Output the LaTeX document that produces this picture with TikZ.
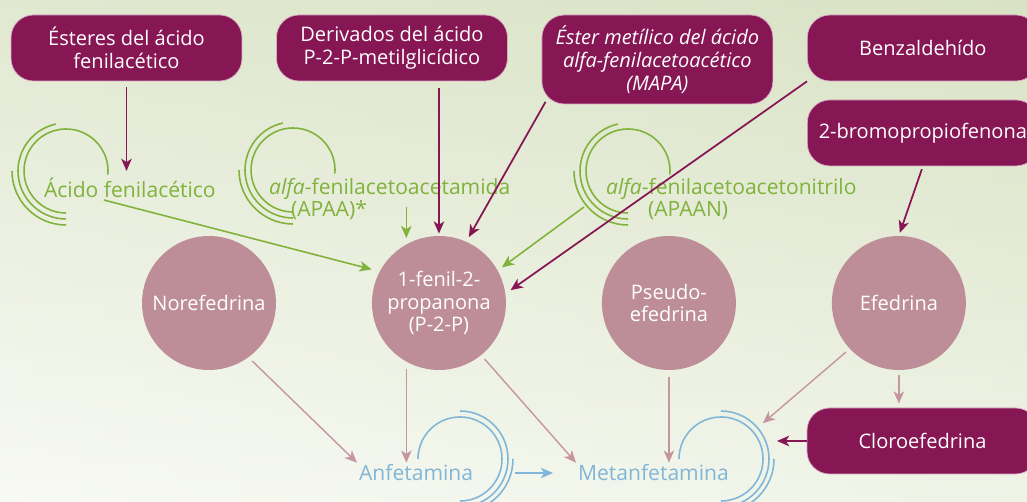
\documentclass[tikz,border=0pt]{standalone}
\usepackage{fontspec}
\setmainfont{Open Sans}
\usetikzlibrary{arrows.meta,positioning,shapes}

\definecolor{plum}{RGB}{134,22,84}
\definecolor{plumline}{RGB}{214,170,195}
\definecolor{rose}{RGB}{190,142,152}
\definecolor{rosearrow}{RGB}{198,150,160}
\definecolor{leaf}{RGB}{128,178,60}
\definecolor{sky}{RGB}{128,182,216}
\definecolor{bgpale}{RGB}{248,250,244}
\definecolor{bgright}{RGB}{228,235,212}
\definecolor{bgtop}{RGB}{210,221,186}

\begin{document}
\begin{tikzpicture}[x=0.02cm, y=0.02cm, node distance=4.6cm,
    txt/.style={font=\fontsize{11.4}{13}\selectfont},
    lbl/.style={font=\fontsize{12}{12.6}\selectfont},
    source/.style={rectangle, rounded corners=0.45cm, draw=plumline, line width=0.4pt, fill=plum, text=white, minimum width=4.62cm, minimum height=1.32cm, align=center, txt},
    drug/.style={circle, fill=rose, text=white, minimum size=2.68cm, inner sep=0pt, align=center, txt},
    pre/.style={text=leaf, align=left, inner sep=1pt, lbl},
    prod/.style={text=sky, inner sep=1pt, lbl},
    tip/.style={-{Stealth[length=7pt, width=6pt, inset=2pt]}},
    plumarrow/.style={tip, color=plum, line width=1pt},
    leafarrow/.style={tip, color=leaf, line width=0.9pt},
    rosearrow/.style={tip, color=rosearrow, line width=0.8pt},
    skyarrow/.style={tip, color=sky, line width=0.8pt},
    ring/.style={line width=0.9pt}]

    \useasboundingbox (0,0) rectangle (1027,502);
    \clip (0,0) rectangle (1027,502);
    \shade [left color=bgpale, right color=bgright] (0,0) rectangle (1027,502);
    \shade [top color=bgtop, bottom color=bgpale, opacity=0.6] (0,0) rectangle (1027,502);

    % precursor boxes
    \node (b1) [source] at (126.5,454) {Ésteres del ácido\\fenilacético};
    \node (b2) [source, right of=b1, node distance=5.31cm] {Derivados del ácido\\P-2-P-metilglicídico};
    \node (b3) [source, right of=b2, node distance=5.31cm, yshift=-0.23cm, minimum height=1.78cm, font=\fontsize{11.4}{13}\selectfont\itshape] {Éster metílico del ácido\\alfa-fenilacetoacético\\(MAPA)};
    \node (b4) [source, right of=b3, node distance=5.31cm, yshift=0.23cm] {Benzaldehído};
    \node (b5) [source, below of=b4, node distance=1.7cm] {2-bromopropiofenona};
    \node (b6) [source] at (922.5,61) {Cloroefedrina};

    % drugs in the middle row
    \node (nore) [drug] at (209,199) {Norefedrina};
    \node (p2p) [drug, right of=nore] {1-fenil-2-\\propanona\\(P-2-P)};
    \node (pseudo) [drug, right of=p2p] {Pseudo-\\efedrina};
    \node (efe) [drug, right of=pseudo] {Efedrina};

    % green pre-precursors and blue end products
    \node (acido) [pre, anchor=west] at (42,314) {Ácido fenilacético};
    \node (apaa) [pre, anchor=west] at (267,303) {\textit{alfa}-fenilacetoacetamida\\\hspace*{0.44cm}(APAA)*};
    \node (apaan) [pre, anchor=west] at (604,303) {\textit{alfa}-fenilacetoacetonitrilo\\\hspace*{0.84cm}(APAAN)};
    \node (anf) [prod, anchor=west] at (357,29) {Anfetamina};
    \node (met) [prod, anchor=west] at (576,29) {Metanfetamina};

    \coordinate (ringA) at (66,331);
    \coordinate (ringB) at (293,332);
    \coordinate (ringC) at (628,331);
    \coordinate (ringD) at (460,43);
    \coordinate (ringE) at (721,43);

    \foreach \c in {ringA,ringB,ringC}
        \foreach \r/\a in {42/-5, 48/102, 54/180}
            \draw [ring, leaf] (\c) ++(\a:\r) arc [start angle=\a, end angle=270, radius=\r];
    \foreach \c in {ringD,ringE}
        \foreach \r/\a in {42/180, 48/90, 53/0}
            \draw [ring, sky] (\c) ++(\a:\r) arc [start angle=\a, end angle=-90, radius=\r];

    % connectors
    \path [plumarrow, shorten <=0.12cm, shorten >=0.1cm] (b1.south) edge (acido.north -| b1.south);
    \path [plumarrow, shorten <=0.14cm, shorten >=0.04cm] (b2.south -| p2p) edge (p2p.north);
    \path [plumarrow, shorten >=0.1cm] ([xshift=0.08cm, yshift=0.05cm]b3.south west) edge (p2p.66);
    \path [plumarrow, shorten >=0.12cm] (b4.south west) edge (p2p.8);
    \path [plumarrow, shorten <=0.06cm, shorten >=0.06cm] (b5.south) edge (efe.north);
    \path [plumarrow, shorten >=1.12cm] (b6.west) edge (b6.west -| ringE);

    \path [leafarrow, shorten <=-0.3cm, shorten >=0.12cm] (apaa.south -| p2p.119) edge (p2p.119);
    \path [leafarrow, shorten >=0.16cm] ([xshift=-0.52cm]acido.south) edge (p2p.152);
    \path [leafarrow, shorten >=0.1cm] ([xshift=-0.4cm, yshift=-0.16cm]apaan.west) edge (p2p.29);

    \path [rosearrow, shorten <=0.1cm] (nore.-54) edge (anf.north west);
    \path [rosearrow, shorten <=0.14cm] (p2p.-119) edge (p2p.-119 |- anf.north);
    \path [rosearrow, shorten <=0.1cm] (p2p.-51) edge (met.north west);
    \path [rosearrow, shorten <=0.14cm] (pseudo.south) edge (pseudo.south |- met.north);
    \path [rosearrow, shorten <=0.1cm, shorten >=1.1cm] (efe.223) edge (ringE);
    \path [rosearrow, shorten <=0.1cm, shorten >=0.08cm] (efe.south) edge (efe.south |- b6.north);

    \path [skyarrow, shorten <=0.8cm, shorten >=0.46cm] (anf.east) edge (met.west);
\end{tikzpicture}
\end{document}
